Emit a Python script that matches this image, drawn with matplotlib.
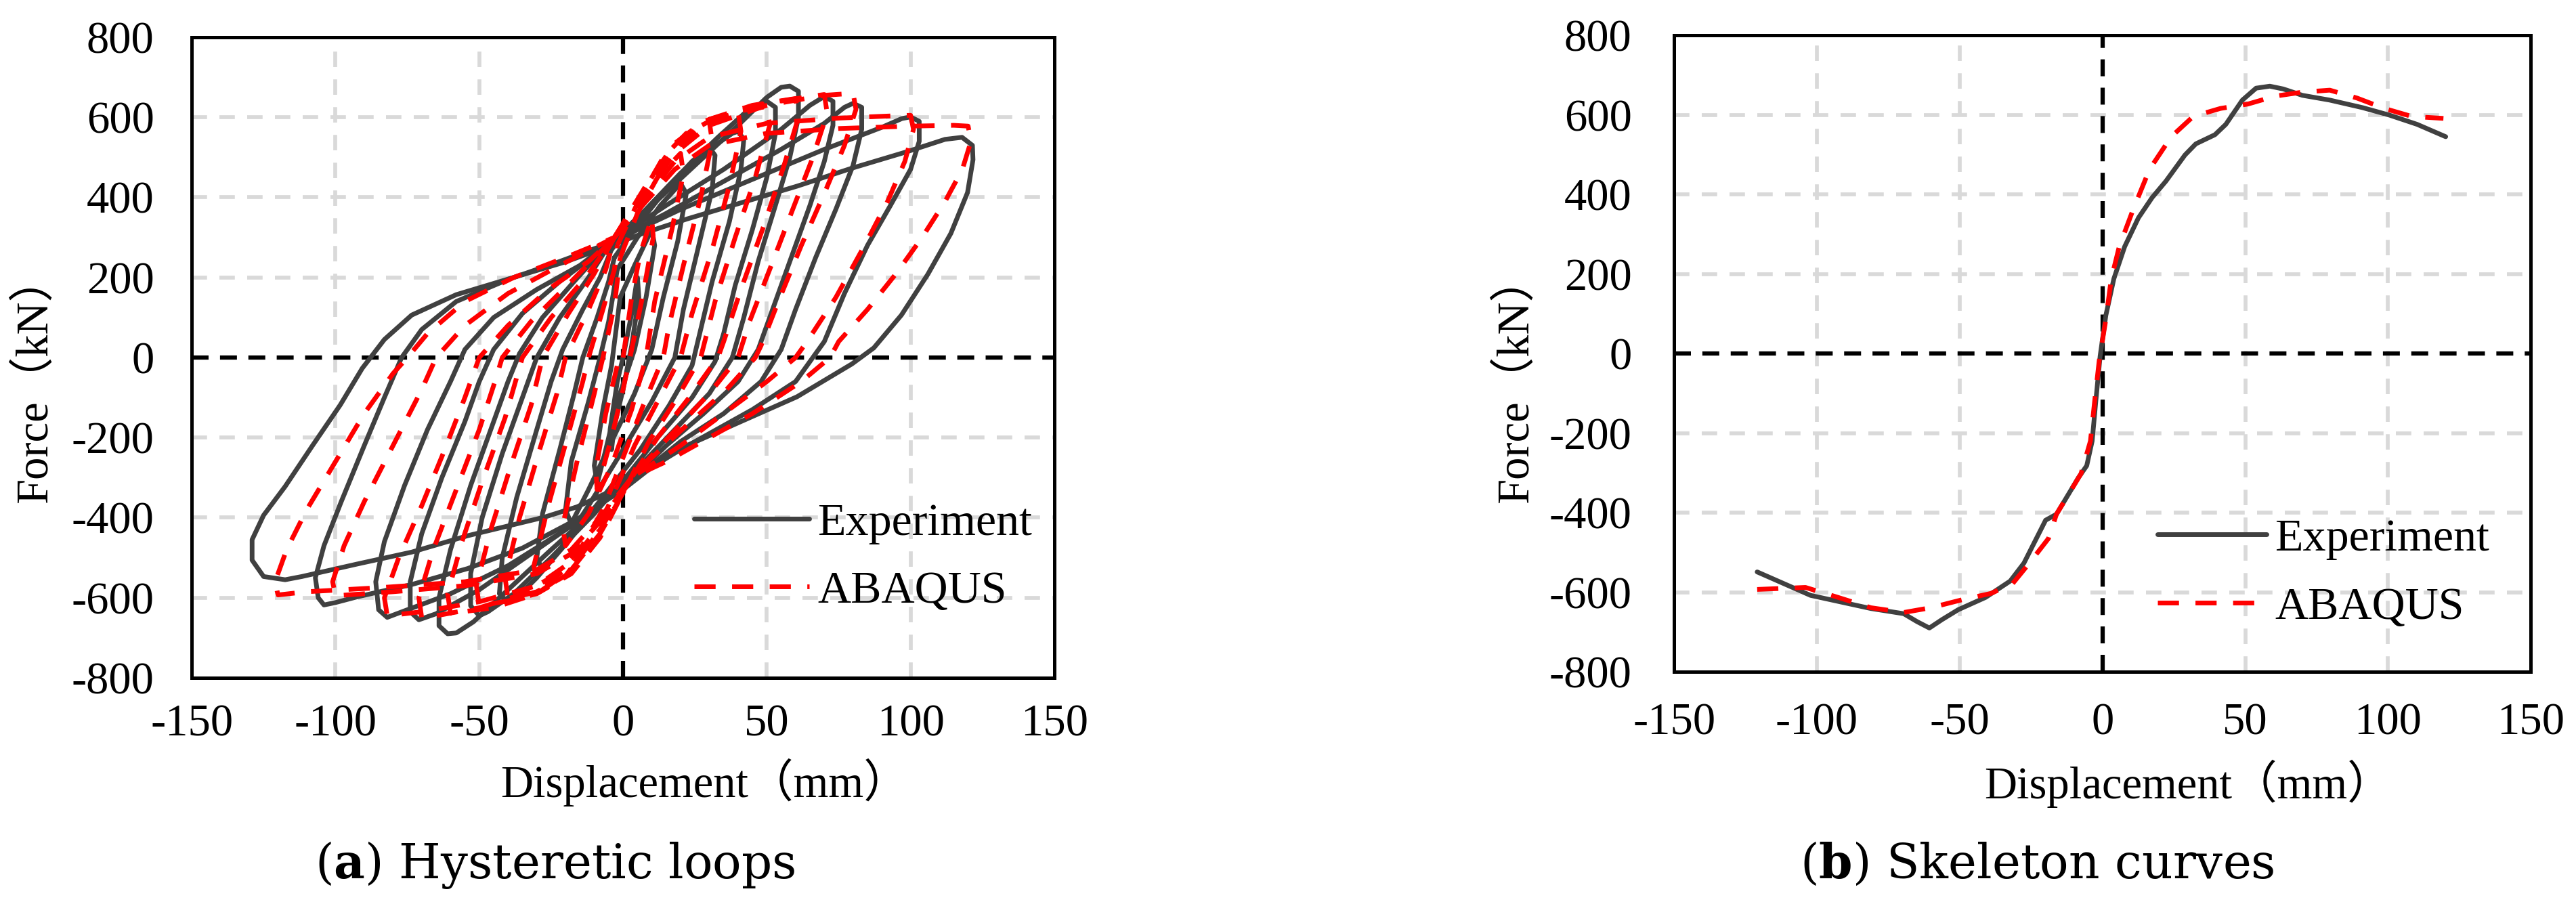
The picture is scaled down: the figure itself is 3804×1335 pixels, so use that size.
import matplotlib
matplotlib.use('Agg')
import matplotlib.pyplot as plt

plt.rcParams['font.family'] = ['Liberation Serif', 'Noto Sans CJK SC']
plt.rcParams['axes.unicode_minus'] = False
plt.rcParams['mathtext.fontset'] = 'custom'
plt.rcParams['mathtext.rm'] = 'DejaVu Serif'
plt.rcParams['mathtext.bf'] = 'DejaVu Serif:bold'

x_ticks = [-150, -100, -50, 0, 50, 100, 150]
y_ticks = [-800, -600, -400, -200, 0, 200, 400, 600, 800]
series_names = ['Experiment', 'ABAQUS']

# (a) hysteretic loops, one list per cycle
hyst_exp_x = [
    [0, 3, 5, 5.5, 3, 0, -3, -4, -4.5, -2, 0],
    [-1, 4, 10, 11, 8, 4, -2, -6, -9, -10, -7, -4, -1],
    [-2, 5, 13, 20, 22, 19, 14, 10, 4, -4, -12, -18, -20, -18, -12, -8, -5, -2],
    [-3, 5, 15, 24, 30, 32, 31, 26, 21, 18, 10, 0, -12, -22, -28, -30, -28, -22, -17, -14, -9, -5, -3],
    [-4, 8, 20, 32, 38, 40, 42, 41, 37, 31, 27, 24, 16, 6, -5, -18, -30, -37, -40, -43, -42, -37, -30, -25, -21, -14, -8, -4],
    [-5, 8, 20, 33, 43, 50, 53, 53, 50, 45, 39, 35, 32, 24, 12, 2, -10, -25, -38, -47, -50, -53, -53, -49, -42, -35, -30, -22, -12, -5],
    [-5, 10, 25, 40, 50, 55, 58, 61, 61, 58, 53, 47, 42, 38, 30, 18, 6, -8, -25, -40, -52, -58, -61, -64, -64, -60, -53, -45, -40, -36, -28, -17, -5],
    [-5, 15, 35, 55, 65, 70, 73, 73, 70, 65, 58, 52, 47, 40, 28, 15, 5, -10, -30, -50, -65, -71, -74, -74, -70, -63, -55, -50, -45, -35, -22, -10, -5],
    [-5, 15, 35, 55, 70, 77, 80, 83, 83, 80, 74, 67, 60, 55, 48, 35, 20, 8, -5, -20, -40, -60, -75, -82, -85, -86, -83, -76, -68, -60, -55, -45, -30, -15, -5],
    [-5, 20, 45, 70, 90, 97, 100, 103, 103, 100, 93, 85, 77, 70, 60, 45, 30, 15, 8, 0, -16, -35, -54, -73.5, -92.6, -100, -104, -106, -107, -104, -98, -90, -83, -77, -70, -58, -40, -22, -5],
    [-6.5, 6.9, 22.2, 41.3, 60.5, 79.6, 98.7, 112, 117.9, 121.5, 121.7, 119.8, 114, 106, 96.8, 87.2, 79.6, 60.5, 41.3, 22.2, 10.7, -0.8, -16, -27.5, -54, -73.5, -92.6, -111.7, -117.5, -125, -129, -129, -125, -117.5, -108, -98.3, -90.7, -83, -73.5, -58, -39, -20, -6.5],
]
hyst_exp_y = [
    [0, 110, 200, 150, 30, -80, -170, -230, -180, -60, 0],
    [150, 230, 320, 280, 150, 20, -110, -230, -315, -270, -130, -20, 150],
    [220, 300, 380, 435, 410, 290, 150, 20, -90, -210, -330, -415, -380, -260, -110, 0, 90, 220],
    [250, 330, 420, 490, 525, 505, 420, 270, 120, 0, -110, -230, -370, -480, -530, -500, -390, -230, -90, 0, 100, 190, 250],
    [270, 370, 460, 530, 560, 565, 545, 470, 340, 190, 70, -20, -120, -230, -330, -450, -550, -600, -612, -590, -500, -350, -180, -60, 20, 120, 200, 270],
    [280, 370, 460, 550, 615, 640, 625, 560, 450, 320, 180, 60, -10, -100, -200, -290, -390, -500, -590, -635, -645, -620, -540, -400, -240, -100, 0, 100, 200, 280],
    [285, 380, 480, 580, 650, 675, 678, 665, 600, 500, 380, 240, 100, 0, -90, -180, -270, -370, -480, -580, -660, -688, -690, -670, -600, -480, -320, -160, -60, 10, 100, 190, 285],
    [285, 380, 470, 570, 630, 652, 640, 580, 490, 380, 240, 120, 20, -60, -140, -220, -290, -380, -480, -580, -640, -655, -635, -560, -440, -300, -160, -60, 20, 110, 190, 255, 285],
    [285, 360, 440, 520, 585, 625, 635, 625, 570, 480, 370, 250, 120, 20, -60, -140, -210, -280, -350, -430, -520, -590, -630, -649, -630, -560, -460, -320, -180, -60, 20, 100, 170, 230, 285],
    [285, 370, 445, 520, 575, 597, 601, 590, 540, 470, 380, 280, 160, 40, -60, -130, -190, -250, -285, -330, -404, -476, -527, -567, -598, -612, -618, -600, -550, -470, -360, -220, -100, 0, 70, 140, 195, 240, 285],
    [274, 310, 346, 387, 428, 473, 514, 545, 550, 530, 494, 412, 310, 208, 106, 24, -16, -98, -159, -220, -271, -322, -373, -399, -445, -486, -516, -547, -555, -547, -506, -455, -394, -322, -220, -118, -27, 45, 106, 157, 198, 239, 274],
]

hyst_aba_x = [
    [0, 3, 6, 10, 10.5, 7, 3, 0, -4, -9, -9.5, -6, -2, 0],
    [-1, 5, 12, 20, 21, 17, 11, 8, 3, -4, -12, -20, -21, -16, -10, -7, -3, -1],
    [-2, 6, 14, 22, 30, 31, 27, 21, 16, 14, 7, 0, -7, -15, -24, -30, -31, -26, -19, -14, -12, -7, -3, -2],
    [-3, 8, 18, 28, 40, 41, 37, 31, 24, 20, 12, 4, -2, -10, -20, -30, -40, -41, -36, -29, -23, -20, -12, -6, -3],
    [-3, 8, 18, 30, 40, 50, 51, 46, 39, 32, 27, 18, 9, 2, -8, -18, -30, -40, -50, -51, -46, -39, -32, -28, -19, -10, -3],
    [-3, 8, 18, 30, 45, 60, 61, 56, 49, 41, 35, 33, 23, 12, 3, -8, -18, -30, -45, -60, -61, -56, -49, -41, -35, -25, -13, -3],
    [-3, 8, 18, 30, 50, 65, 70, 71, 66, 59, 51, 44, 40, 30, 17, 3, -8, -18, -30, -50, -65, -70, -71, -66, -58, -50, -45, -42, -32, -18, -3],
    [-3, 8, 18, 30, 50, 70, 80, 81, 77, 70, 62, 54, 48, 46, 36, 22, 10, 3, -8, -18, -30, -50, -70, -82, -83, -78, -70, -62, -55, -50, -40, -26, -12, -3],
    [-3, 8, 18, 30, 50, 75, 95, 100, 101, 98, 92, 84, 74, 64, 60, 50, 35, 20, 3, -8, -18, -30, -55, -80, -100, -101, -97, -90, -80, -70, -65, -55, -40, -22, -3],
    [-3, 8, 18, 30, 50, 75, 100, 115, 120, 121, 118, 112, 104, 95, 85, 75, 72, 62, 45, 30, 15, 3, -8, -18, -30, -55, -85, -110, -120, -121, -117, -110, -100, -90, -80, -75, -68, -55, -38, -20, -3],
]
hyst_aba_y = [
    [0, 150, 260, 350, 300, 160, 20, -80, -200, -330, -280, -140, -20, 0],
    [250, 360, 450, 510, 460, 320, 140, 0, -130, -270, -390, -470, -420, -260, -90, 0, 130, 250],
    [280, 400, 500, 560, 590, 540, 400, 230, 80, 0, -120, -250, -380, -480, -545, -570, -520, -370, -190, -60, 0, 120, 220, 280],
    [300, 430, 535, 590, 615, 565, 430, 270, 110, 0, -110, -220, -320, -450, -545, -585, -603, -550, -400, -230, -90, 0, 120, 220, 300],
    [300, 425, 530, 595, 615, 627, 580, 450, 300, 140, 0, -110, -210, -310, -450, -540, -590, -608, -620, -570, -430, -270, -120, 0, 110, 210, 300],
    [300, 420, 525, 595, 630, 647, 600, 480, 330, 170, 40, 0, -100, -200, -300, -440, -530, -590, -625, -639, -590, -460, -310, -150, 0, 100, 200, 300],
    [300, 415, 520, 590, 635, 652, 657, 610, 500, 370, 220, 90, 0, -90, -190, -300, -430, -520, -580, -625, -645, -651, -600, -480, -330, -180, -70, 0, 90, 190, 300],
    [300, 410, 510, 580, 630, 655, 660, 620, 530, 410, 280, 140, 30, 0, -80, -170, -250, -300, -420, -510, -570, -610, -635, -645, -600, -500, -370, -230, -100, 0, 80, 170, 240, 300],
    [300, 400, 490, 550, 585, 598, 604, 605, 570, 490, 390, 280, 150, 40, 0, -60, -140, -220, -300, -410, -490, -540, -570, -585, -595, -560, -470, -360, -220, -80, 0, 80, 160, 230, 300],
    [300, 390, 470, 530, 560, 572, 578, 580, 578, 540, 470, 390, 300, 210, 120, 40, 0, -60, -140, -200, -260, -300, -400, -480, -530, -560, -575, -585, -593, -560, -480, -380, -260, -140, -40, 0, 60, 140, 200, 250, 300],
]

# (b) skeleton curves
skel_exp_x = [-120.9, -111.7, -102.2, -92.6, -81.1, -69.6, -64.9, -60.6, -56.2, -50.5, -40.9, -32.3, -27.5, -19.9, -16.1, -8.4, -5.5, -3.6, -2.3, -0.8,
              1.2, 4.0, 7.8, 12.6, 17.4, 22.2, 28.9, 32.7, 39.4, 43.2, 49.0, 53.8, 58.6, 63.3, 70.0, 79.6, 91.1, 100.6, 110.2, 120.2]
skel_exp_y = [-549, -578, -608, -623, -641, -654, -674, -690, -669, -644, -613, -572, -527, -419, -404, -312, -282, -220, -118, -6,
              96, 188, 269, 341, 392, 433, 499, 527, 550, 576, 637, 667, 672, 665, 649, 637, 618, 599, 576, 545]
skel_aba_x = [-120.9, -104.0, -92.6, -81.1, -69.6, -60.1, -48.6, -39.0, -31.4, -25.6, -18.9, -16.1, -7.5, -4.2, -2.7, -1.1,
              1.2, 3.1, 5.9, 10.7, 16.5, 24.1, 31.8, 41.3, 50.9, 60.5, 70.0, 79.6, 89.2, 98.7, 108.3, 119.4]
skel_aba_y = [-593, -588, -613, -639, -651, -639, -618, -603, -578, -527, -465, -404, -302, -220, -118, -16,
              86, 188, 269, 361, 463, 545, 596, 616, 627, 647, 657, 662, 642, 616, 596, 591]

exp_color = '#404040'
aba_color = '#ff0000'
grid_color = '#d9d9d9'


def style_axes(ax, xpad, ypad):
    ax.set_xlim(x_ticks[0], x_ticks[-1])
    ax.set_ylim(y_ticks[0], y_ticks[-1])
    ax.set_xticks(x_ticks)
    ax.set_yticks(y_ticks)
    ax.tick_params(axis='x', length=0, labelsize=48, pad=xpad)
    ax.tick_params(axis='y', length=0, labelsize=48, pad=ypad)
    for s in ax.spines.values():
        s.set_linewidth(3.6)
        s.set_color('black')
        s.set_zorder(6)
    for xv in x_ticks[1:-1]:
        if xv != 0:
            ax.axvline(xv, color=grid_color, lw=4.1, ls=(0, (4, 3.2)), zorder=0)
    for yv in y_ticks[1:-1]:
        if yv != 0:
            ax.axhline(yv, color=grid_color, lw=4.1, ls=(0, (4, 3.2)), zorder=0)
    ax.axhline(0, color='black', lw=4.5, ls=(0, (4, 2.7)), zorder=1)
    ax.axvline(0, color='black', lw=4.5, ls=(0, (4, 2.7)), zorder=1)


fig = plt.figure(figsize=(38.05, 13.35), dpi=100)
ax1 = fig.add_axes([0.0744, 0.2502, 0.3348, 0.7086])
ax2 = fig.add_axes([0.6497, 0.2569, 0.3325, 0.7041])
style_axes(ax1, 28, 40)
style_axes(ax2, 33, 45)

exp_kw = dict(color=exp_color, lw=5, solid_joinstyle='round', solid_capstyle='round', zorder=3)
aba_kw = dict(color=aba_color, lw=5, ls=(0, (4.5, 3.5)), zorder=4)

for i, (xs, ys) in enumerate(zip(hyst_exp_x, hyst_exp_y)):
    ax1.plot(xs, ys, label=series_names[0] if i == 0 else None, **exp_kw)
for i, (xs, ys) in enumerate(zip(hyst_aba_x, hyst_aba_y)):
    ax1.plot(xs, ys, label=series_names[1] if i == 0 else None, **aba_kw)

ax2.plot(skel_exp_x, skel_exp_y, label=series_names[0], **exp_kw)
ax2.plot(skel_aba_x, skel_aba_y, label=series_names[1], **aba_kw)

ax1.legend(loc='lower left', bbox_to_anchor=(0.582, 0.103), frameon=False, fontsize=49,
           handlelength=2.51, handletextpad=0.17, labelspacing=0.56, borderpad=0, borderaxespad=0)
ax2.legend(loc='lower left', bbox_to_anchor=(0.564, 0.068), frameon=False, fontsize=49,
           handlelength=2.37, handletextpad=0.18, labelspacing=0.58, borderpad=0, borderaxespad=0)

W, H = 3805, 1335
label_kw = dict(fontsize=48)
fig.text(739 / W, 1 - 1177 / H, 'Displacement（mm）', ha='left', va='baseline', **label_kw)
fig.text(2930 / W, 1 - 1179 / H, 'Displacement（mm）', ha='left', va='baseline', **label_kw)
fig.text(51 / W, 1 - 560 / H, 'Force（kN）', rotation=90, ha='center', va='center', **label_kw)
fig.text(2238 / W, 1 - 560 / H, 'Force（kN）', rotation=90, ha='center', va='center', **label_kw)

cap_kw = dict(ha='center', va='baseline', fontsize=51, family='DejaVu Serif')
fig.text(820 / W, 1 - 1297 / H, r'($\mathbf{a}$) Hysteretic loops', **cap_kw)
fig.text(3008 / W, 1 - 1297 / H, r'($\mathbf{b}$) Skeleton curves', **cap_kw)

fig.savefig('out.png', dpi=100)
